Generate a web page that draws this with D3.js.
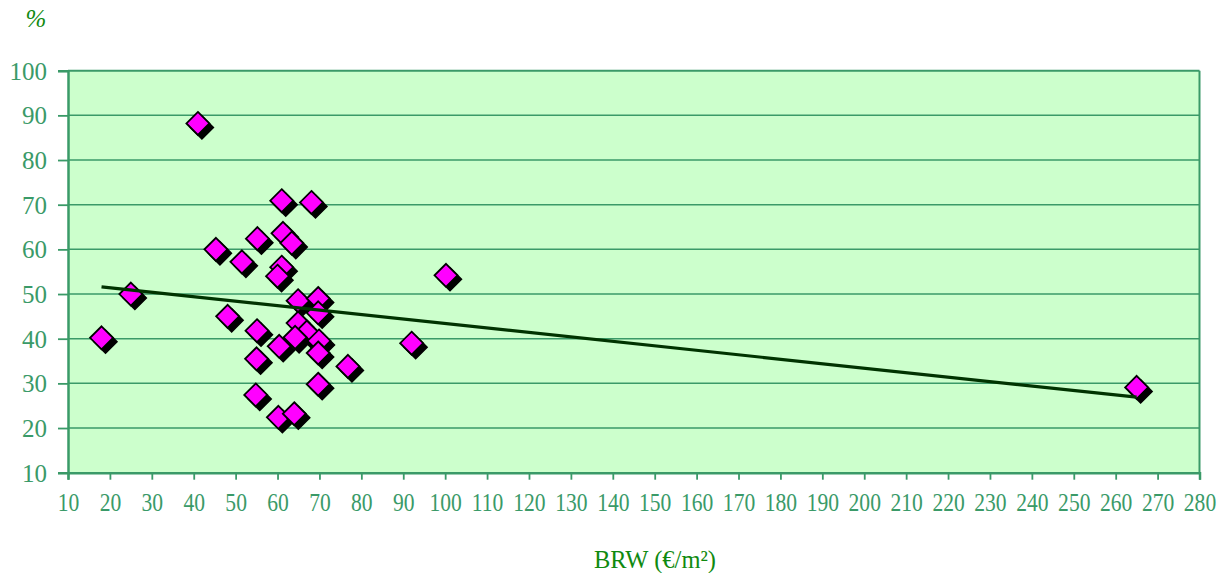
<!DOCTYPE html>
<html>
<head>
<meta charset="utf-8">
<script src="https://cdn.jsdelivr.net/npm/d3@7"></script>
<style>
  html, body { margin: 0; padding: 0; background: #ffffff; }
  svg { display: block; }
</style>
</head>
<body>
<svg id="chart" width="1226" height="573"></svg>
<script>
// ---- data ----
const brw = [18, 25, 41, 45.3, 48.1, 51.5, 55.2, 55.1, 55.0, 54.8,
             61.0, 68.1, 61.3, 63.4, 61.0, 60.0, 64.9, 69.7, 69.7, 64.9,
             67.0, 64.2, 69.9, 60.4, 69.7, 76.8, 69.7, 60.2, 64.0, 92.0,
             100.2, 265.0];
const pct = [40.2, 50.0, 88.2, 60.0, 45.0, 57.2, 62.4, 41.8, 35.5, 27.4,
             70.9, 70.5, 63.6, 61.4, 56.0, 54.0, 48.5, 49.0, 45.8, 43.5,
             41.5, 40.3, 39.5, 38.3, 36.8, 33.8, 29.8, 22.4, 23.2, 39.0,
             54.2, 29.1];
const trendX = [18, 265];
const trendY = [51.6, 26.9];
const xTicks = d3.range(10, 281, 10);
const yTicks = d3.range(10, 101, 10);
const xTitle = "BRW (€/m²)";
const yTitle = "%";

// ---- layout ----
const svg = d3.select("#chart");
const pLeft = 68, pRight = 1199.5, pTop = 70.7, pBottom = 472.7;
const x = d3.scaleLinear().domain([10, 280]).range([pLeft, pRight]);
const y = d3.scaleLinear().domain([10, 100]).range([pBottom, pTop]);

const axisColor = "#3a9a68";
const labelColor = "#3a9a68";
const titleColor = "#108a10";
const font = "'Liberation Serif', 'Times New Roman', serif";

// plot background
svg.append("rect")
  .attr("x", pLeft).attr("y", pTop)
  .attr("width", pRight - pLeft).attr("height", pBottom - pTop)
  .attr("fill", "#ccffcc");

// horizontal gridlines
svg.append("g").selectAll("line")
  .data(yTicks.filter(d => d > 10 && d < 100))
  .join("line")
  .attr("x1", pLeft).attr("x2", pRight)
  .attr("y1", d => y(d)).attr("y2", d => y(d))
  .attr("stroke", axisColor).attr("stroke-width", 1.5);

// plot border (top, right)
svg.append("line").attr("x1", pLeft).attr("x2", pRight).attr("y1", pTop).attr("y2", pTop)
  .attr("stroke", axisColor).attr("stroke-width", 2);
svg.append("line").attr("x1", pRight).attr("x2", pRight).attr("y1", pTop).attr("y2", pBottom)
  .attr("stroke", axisColor).attr("stroke-width", 2);

// y axis
const yAxis = d3.axisLeft(y).tickValues(yTicks).tickSize(10).tickPadding(11)
  .tickFormat(d3.format("d"));
const gy = svg.append("g").attr("transform", `translate(${pLeft},0)`).call(yAxis);
gy.select(".domain").attr("stroke", axisColor).attr("stroke-width", 2.5);
gy.selectAll(".tick line").attr("stroke", axisColor).attr("stroke-width", 1.8);
gy.selectAll(".tick text")
  .attr("fill", labelColor).style("font-family", font).style("font-size", "25px")
  .attr("dy", "0.34em");

// x axis
const xAxis = d3.axisBottom(x).tickValues(xTicks).tickSize(7).tickPadding(14)
  .tickFormat(d3.format("d"));
const gx = svg.append("g").attr("transform", `translate(0,${pBottom})`).call(xAxis);
gx.select(".domain").attr("stroke", axisColor).attr("stroke-width", 2.5);
gx.selectAll(".tick line").attr("stroke", axisColor).attr("stroke-width", 1.8);
gx.selectAll(".tick text")
  .attr("fill", labelColor).style("font-family", font).style("font-size", "24.5px")
  .attr("dy", "0.71em")
  .attr("transform", "scale(0.88,1)");

// markers
const r = 11.5;
const diamond = `M0,${-r}L${r},0L0,${r}L${-r},0Z`;
const pts = brw.map((v, i) => ({ bx: v, py: pct[i] }));
const mg = svg.append("g");
const pg = mg.selectAll("g").data(pts).join("g")
  .attr("transform", d => `translate(${x(d.bx)},${y(d.py)})`);
pg.append("path").attr("d", diamond).attr("transform", "translate(4,4)")
  .attr("fill", "#000000").attr("stroke", "#000000").attr("stroke-width", 1.5);
pg.append("path").attr("d", diamond)
  .attr("fill", "#ff00ff").attr("stroke", "#000000").attr("stroke-width", 1.8);

// trend line
svg.append("path")
  .datum(trendX.map((v, i) => [v, trendY[i]]))
  .attr("d", d3.line().x(d => x(d[0])).y(d => y(d[1])))
  .attr("fill", "none").attr("stroke", "#003300").attr("stroke-width", 3.2);

// titles
svg.append("text").attr("x", 36).attr("y", 27).attr("text-anchor", "middle")
  .attr("fill", titleColor).style("font-family", font).style("font-size", "25px")
  .style("font-style", "italic").text(yTitle);
svg.append("text").attr("x", 655).attr("y", 568).attr("text-anchor", "middle")
  .attr("fill", titleColor).style("font-family", font).style("font-size", "24.5px")
  .text(xTitle);
</script>
</body>
</html>
